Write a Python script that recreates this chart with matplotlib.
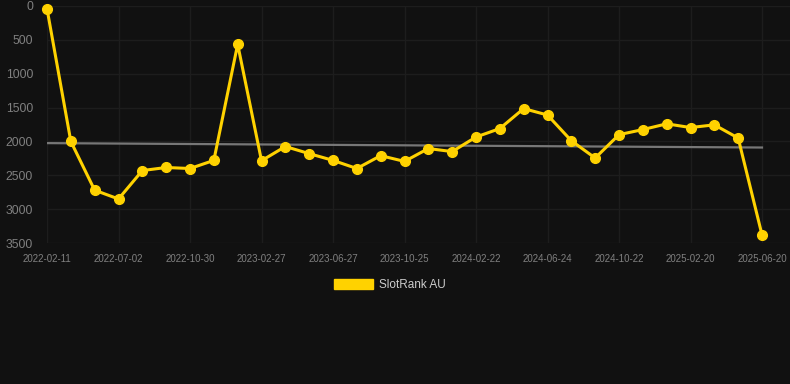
import matplotlib
matplotlib.use("Agg")
import matplotlib.pyplot as plt
from matplotlib.patches import Patch

# =====================================================
# =========       Data     =========
# =====================================================

TICK_LABELS = [
    "2022-02-11", "2022-07-02", "2022-10-30", "2023-02-27",
    "2023-06-27", "2023-10-25", "2024-02-22", "2024-06-24",
    "2024-10-22", "2025-02-20", "2025-06-20",
]
TICK_EVERY = 3

RANK = [
    40, 2000, 2720, 2850, 2430, 2385, 2400, 2280, 565, 2285,
    2075, 2180, 2280, 2400, 2210, 2295, 2105, 2150, 1935, 1810,
    1515, 1610, 1990, 2245, 1900, 1825, 1740, 1795, 1755, 1950,
    3380,
]

TREND_ENDS = [2025, 2090]

SERIES_NAME = "SlotRank AU"

# =====================================================
# =========       Style                       =========
# =====================================================

BG = "#111111"
GRID = "#1d1d1d"
TICK_COLOR = "#808080"
GOLD = "#FFD200"
TREND_COLOR = "#777777"

plt.rcParams["font.family"] = ["Liberation Sans", "DejaVu Sans"]

fig = plt.figure(figsize=(7.9, 3.84), dpi=100, facecolor=BG)
ax = fig.add_axes([47 / 790, 1 - 243 / 384, 743 / 790, 237 / 384])
ax.set_facecolor(BG)

x = list(range(len(RANK)))
ax.plot([x[0], x[-1]], TREND_ENDS, color=TREND_COLOR, lw=1.6, zorder=2)
ax.plot(x, RANK, color=GOLD, lw=2.2, marker="o", ms=7,
        clip_on=False, zorder=3)

ax.set_xlim(0, 743 / (715 / 30))
ax.set_ylim(3500, 0)
ax.set_yticks(range(0, 3501, 500))
ax.set_xticks(x[::TICK_EVERY])
ax.set_xticklabels(TICK_LABELS)

ax.grid(True, color=GRID, lw=1)
ax.set_axisbelow(True)
for s in ax.spines.values():
    s.set_visible(False)
ax.tick_params(axis="both", length=0, colors=TICK_COLOR)
ax.tick_params(axis="y", labelsize=8.8, pad=10)
ax.tick_params(axis="x", labelsize=7, pad=8)

handle = Patch(facecolor=GOLD, edgecolor=GOLD)
fig.legend([handle], [SERIES_NAME], loc="center", bbox_to_anchor=(390 / 790, 1 - 285 / 384),
           frameon=False, fontsize=8.5, labelcolor="#cccccc",
           handlelength=3.3, handleheight=1.0, handletextpad=0.5)

fig.savefig("out.png", dpi=100, facecolor=BG)
